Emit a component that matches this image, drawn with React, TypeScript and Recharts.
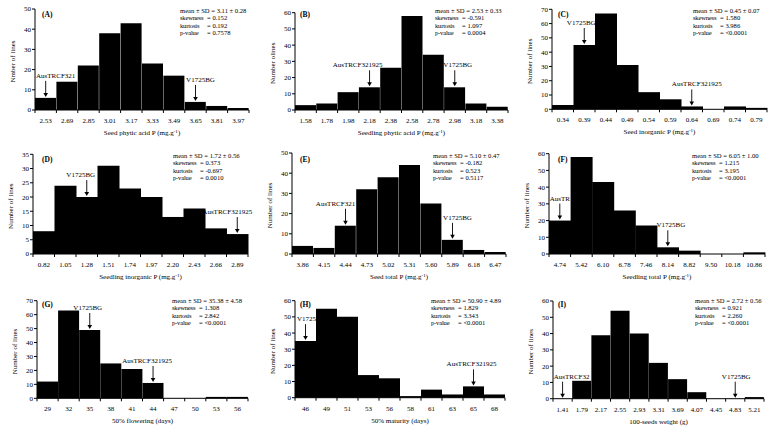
import React from 'react';
import { BarChart, Bar, XAxis, YAxis, ReferenceDot } from 'recharts';

const FONT = '"Liberation Serif", "Times New Roman", serif';

// (A) seed phytic acid P
const seedPhyticBins = ['2.53', '2.69', '2.85', '3.01', '3.17', '3.33', '3.49', '3.65', '3.81', '3.97'];
const seedPhyticCounts = [6, 14, 22, 38, 43, 23, 17, 4, 2, 1];
const seedPhyticStats = ['3.11 ± 0.28', '0.152', '0.192', '0.7578'];
const seedPhyticMarks = [{ line: 'AusTRCF321', bin: '2.53' }, { line: 'V1725BG', bin: '3.65' }];

// (B) seedling phytic acid P
const seedlingPhyticBins = ['1.58', '1.78', '1.98', '2.18', '2.38', '2.58', '2.78', '2.98', '3.18', '3.38'];
const seedlingPhyticCounts = [3, 4, 11, 14, 26, 58, 34, 14, 4, 2];
const seedlingPhyticStats = ['2.53 ± 0.33', '-0.591', '1.097', '0.0004'];
const seedlingPhyticMarks = [{ line: 'AusTRCF321925', bin: '2.18' }, { line: 'V1725BG', bin: '2.98' }];

// (C) seed inorganic P
const seedInorgBins = ['0.34', '0.39', '0.44', '0.49', '0.54', '0.59', '0.64', '0.69', '0.74', '0.79'];
const seedInorgCounts = [3, 45, 67, 31, 12, 7, 2, 0, 2, 1];
const seedInorgStats = ['0.45 ± 0.07', '1.580', '3.986', '<0.0001'];
const seedInorgMarks = [{ line: 'V1725BG', bin: '0.39' }, { line: 'AusTRCF321925', bin: '0.64' }];

// (D) seedling inorganic P
const seedlingInorgBins = ['0.82', '1.05', '1.28', '1.51', '1.74', '1.97', '2.20', '2.43', '2.66', '2.89'];
const seedlingInorgCounts = [8, 24, 20, 31, 23, 20, 13, 16, 9, 7];
const seedlingInorgStats = ['1.72 ± 0.56', '0.373', '-0.697', '0.0010'];
const seedlingInorgMarks = [{ line: 'V1725BG', bin: '1.28' }, { line: 'AusTRCF321925', bin: '2.89' }];

// (E) seed total P
const seedTotalBins = ['3.86', '4.15', '4.44', '4.73', '5.02', '5.31', '5.60', '5.89', '6.18', '6.47'];
const seedTotalCounts = [4, 3, 14, 32, 38, 44, 25, 7, 2, 1];
const seedTotalStats = ['5.10 ± 0.47', '-0.182', '0.523', '0.5117'];
const seedTotalMarks = [{ line: 'AusTRCF321', bin: '4.44' }, { line: 'V1725BG', bin: '5.89' }];

// (F) seedling total P
const seedlingTotalBins = ['4.74', '5.42', '6.10', '6.78', '7.46', '8.14', '8.82', '9.50', '10.18', '10.86'];
const seedlingTotalCounts = [20, 58, 43, 26, 17, 4, 2, 0, 0, 1];
const seedlingTotalStats = ['6.05 ± 1.00', '1.215', '3.195', '<0.0001'];
const seedlingTotalMarks = [{ line: 'AusTR', bin: '4.74' }, { line: 'V1725BG', bin: '8.14' }];

// (G) 50% flowering
const floweringBins = ['29', '32', '35', '38', '41', '44', '47', '50', '53', '56'];
const floweringCounts = [12, 63, 49, 25, 21, 11, 0, 0, 1, 1];
const floweringStats = ['35.38 ± 4.58', '1.308', '2.842', '<0.0001'];
const floweringMarks = [{ line: 'V1725BG', bin: '35' }, { line: 'AusTRCF321925', bin: '44' }];

// (H) 50% maturity
const maturityBins = ['46', '49', '51', '53', '56', '58', '61', '63', '65', '68'];
const maturityCounts = [35, 55, 50, 14, 12, 1, 5, 2, 7, 2];
const maturityStats = ['50.90 ± 4.89', '1.829', '3.343', '<0.0001'];
const maturityMarks = [{ line: 'V1725', bin: '46' }, { line: 'AusTRCF321925', bin: '65' }];

// (I) 100-seeds weight
const seedWeightBins = ['1.41', '1.79', '2.17', '2.55', '2.93', '3.31', '3.69', '4.07', '4.45', '4.83', '5.21'];
const seedWeightCounts = [0, 11, 39, 54, 40, 22, 12, 4, 0, 0, 1];
const seedWeightStats = ['2.72 ± 0.56', '0.921', '2.260', '<0.0001'];
const seedWeightMarks = [{ line: 'AusTRCF32', bin: '1.41' }, { line: 'V1725BG', bin: '4.83' }];

const statNames = ['skewness', 'kurtosis', 'p-value'];

const panels = [
  { tag: '(A)', bins: seedPhyticBins, counts: seedPhyticCounts, yMax: 50, yStep: 10, yLabel: 'Nmber of lines', xLabel: ['Seed phytic acid P (mg.g', '-1', ')'], stats: seedPhyticStats, marks: seedPhyticMarks },
  { tag: '(B)', bins: seedlingPhyticBins, counts: seedlingPhyticCounts, yMax: 60, yStep: 10, yLabel: 'Number olines', xLabel: ['Seedling phytic acid P (mg.g', '-1', ')'], stats: seedlingPhyticStats, marks: seedlingPhyticMarks },
  { tag: '(C)', bins: seedInorgBins, counts: seedInorgCounts, yMax: 70, yStep: 10, yLabel: 'Number of lines', xLabel: ['Seed inorganic P (mg.g', '-1', ')'], stats: seedInorgStats, marks: seedInorgMarks },
  { tag: '(D)', bins: seedlingInorgBins, counts: seedlingInorgCounts, yMax: 35, yStep: 5, yLabel: 'Number of lines', xLabel: ['Seedling inorganic P (mg.g', '-1', ')'], stats: seedlingInorgStats, marks: seedlingInorgMarks },
  { tag: '(E)', bins: seedTotalBins, counts: seedTotalCounts, yMax: 50, yStep: 10, yLabel: 'Number of lines', xLabel: ['Seed total P (mg.g', '-1', ')'], stats: seedTotalStats, marks: seedTotalMarks },
  { tag: '(F)', bins: seedlingTotalBins, counts: seedlingTotalCounts, yMax: 60, yStep: 10, yLabel: 'Number of lines', xLabel: ['Seedling total P (mg.g', '-1', ')'], stats: seedlingTotalStats, marks: seedlingTotalMarks },
  { tag: '(G)', bins: floweringBins, counts: floweringCounts, yMax: 70, yStep: 10, yLabel: 'Number of lines', xLabel: ['50% flowering (days)', '', ''], stats: floweringStats, marks: floweringMarks },
  { tag: '(H)', bins: maturityBins, counts: maturityCounts, yMax: 60, yStep: 10, yLabel: 'Number of lines', xLabel: ['50% maturity (days)', '', ''], stats: maturityStats, marks: maturityMarks },
  { tag: '(I)', bins: seedWeightBins, counts: seedWeightCounts, yMax: 60, yStep: 10, yLabel: 'Number of lines', xLabel: ['100-seeds weight (g)', '', ''], stats: seedWeightStats, marks: seedWeightMarks },
];

// plot box inside each 258x145 cell, stats x, and label offsets for the arrows
const layout = [
  { left: 35, right: 249, top: 9, bottom: 110, statsX: 180, markDx: [10, 5] },
  { left: 37, right: 250, top: 12.7, bottom: 110, statsX: 177, markDx: [-12, 3] },
  { left: 36, right: 251, top: 9.3, bottom: 109.3, statsX: 177, markDx: [-3, 5] },
  { left: 33, right: 248, top: 9.3, bottom: 109, statsX: 173, markDx: [-6, -10] },
  { left: 34, right: 248, top: 8, bottom: 109, statsX: 175, markDx: [-10, 5] },
  { left: 33, right: 249, top: 8.7, bottom: 109, statsX: 176, markDx: [0, 3] },
  { left: 37, right: 248, top: 10.7, bottom: 108.3, statsX: 172, markDx: [-2, -6] },
  { left: 37, right: 247, top: 10.7, bottom: 107.7, statsX: 173, markDx: [1, -2] },
  { left: 37, right: 248, top: 11, bottom: 108.7, statsX: 179, markDx: [9, 1] },
];

const CELL_W = 258;
const CELL_H = 145;
const Y_AXIS_W = 30;
const X_AXIS_H = 27;

function Arrow({ cx, cy, label, dx }: any) {
  const rise = 20;
  return (
    <g>
      <text x={cx + dx} y={cy - rise} textAnchor="middle" fontSize={7} fontFamily={FONT} fill="#000">
        {label}
      </text>
      <line x1={cx} x2={cx} y1={cy - rise + 3} y2={cy - 4} stroke="#000" strokeWidth={0.9} />
      <polygon points={`${cx - 2.3},${cy - 5} ${cx + 2.3},${cy - 5} ${cx},${cy - 1}`} fill="#000" />
    </g>
  );
}

function Panel({ p, g, col, row }: any) {
  const data = p.bins.map((bin: string, i: number) => ({ bin, count: p.counts[i] }));
  const ticks: number[] = [];
  for (let v = 0; v <= p.yMax; v += p.yStep) ticks.push(v);
  const n = p.bins.length;
  const bw = (g.right - g.left) / n;
  const midY = (g.top + g.bottom) / 2 + 2;

  const renderTick = (props: any) => {
    const { x, y, payload, index } = props;
    return (
      <g>
        <text x={x} y={y + 13} textAnchor="middle" fontSize={7} fontFamily={FONT} fill="#000">
          {payload.value}
        </text>
        <line x1={x - bw / 2} x2={x - bw / 2} y1={y} y2={y + 3} stroke="#000" />
        {index === n - 1 && <line x1={x + bw / 2} x2={x + bw / 2} y1={y} y2={y + 3} stroke="#000" />}
      </g>
    );
  };

  return (
    <div style={{ position: 'absolute', left: col * CELL_W, top: row * CELL_H, width: CELL_W, height: CELL_H }}>
      <BarChart
        width={CELL_W}
        height={CELL_H}
        data={data}
        barCategoryGap={0}
        margin={{ top: g.top, right: CELL_W - g.right, left: g.left - Y_AXIS_W, bottom: CELL_H - g.bottom - X_AXIS_H }}
      >
        <XAxis
          dataKey="bin"
          type="category"
          interval={0}
          height={X_AXIS_H}
          tickLine={false}
          tickSize={0}
          tickMargin={0}
          axisLine={{ stroke: '#000' }}
          tick={renderTick}
          label={{
            content: () => (
              <text x={(g.left + g.right) / 2} y={g.bottom + 25} textAnchor="middle" fontSize={7} fontFamily={FONT} fill="#000">
                <tspan>{p.xLabel[0]}</tspan>
                {p.xLabel[1] && <tspan dy={-2.5} fontSize={5}>{p.xLabel[1]}</tspan>}
                {p.xLabel[2] && <tspan dy={2.5}>{p.xLabel[2]}</tspan>}
              </text>
            ),
          }}
        />
        <YAxis
          type="number"
          domain={[0, p.yMax]}
          ticks={ticks}
          interval={0}
          width={Y_AXIS_W}
          tickSize={3}
          tickMargin={1}
          axisLine={{ stroke: '#000' }}
          tickLine={{ stroke: '#000' }}
          tick={{ fontSize: 7, fontFamily: FONT, fill: '#000' }}
          label={{
            content: () => (
              <text
                transform={`translate(${g.left - 22},${midY}) rotate(-90)`}
                textAnchor="middle"
                dominantBaseline="central"
                fontSize={7}
                fontFamily={FONT}
                fill="#000"
              >
                {p.yLabel}
              </text>
            ),
          }}
        />
        <Bar dataKey="count" fill="#000" isAnimationActive={false} />
        {p.marks.map((m: any, i: number) => (
          <ReferenceDot
            key={m.line}
            x={m.bin}
            y={p.counts[p.bins.indexOf(m.bin)]}
            ifOverflow="visible"
            shape={(sp: any) => <Arrow cx={sp.cx} cy={sp.cy} label={m.line} dx={g.markDx[i]} />}
          />
        ))}
      </BarChart>
      <div style={{ position: 'absolute', left: 42, top: 10.5, fontFamily: FONT, fontSize: 7.5, fontWeight: 'bold', lineHeight: 1 }}>
        {p.tag}
      </div>
      <div style={{ position: 'absolute', left: g.statsX, top: 7, fontFamily: FONT, fontSize: 6.6, lineHeight: '7.4px', whiteSpace: 'nowrap' }}>
        <div>mean ± SD = {p.stats[0]}</div>
        {statNames.map((s, i) => (
          <div key={s}>
            <span style={{ display: 'inline-block', width: 27, letterSpacing: -0.2 }}>{s}</span>= {p.stats[i + 1]}
          </div>
        ))}
      </div>
    </div>
  );
}

export default function App() {
  return (
    <div style={{ position: 'absolute', left: 0, top: 0, width: 775, height: 435, background: '#fff' }}>
      {panels.map((p, i) => (
        <Panel key={p.tag} p={p} g={layout[i]} col={i % 3} row={Math.floor(i / 3)} />
      ))}
    </div>
  );
}
